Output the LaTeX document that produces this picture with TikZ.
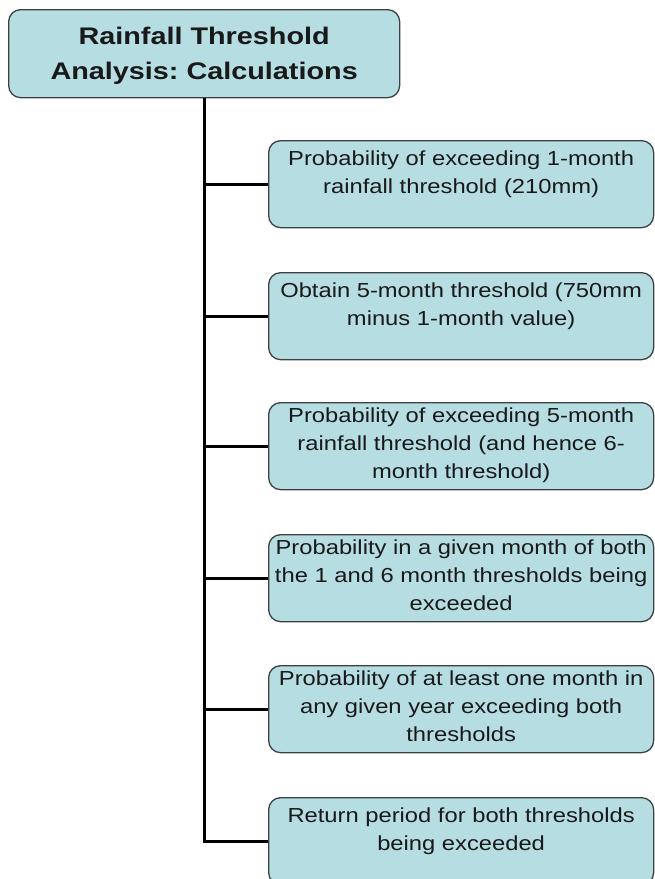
\documentclass[tikz,border=0pt]{standalone}
\usepackage{fontspec}
\newfontfamily\boxfont[FakeStretch=1.17]{Liberation Sans}
\newfontfamily\titlefont[FakeStretch=1.2]{Liberation Sans}
\definecolor{boxfill}{RGB}{181,221,226}
\definecolor{boxline}{RGB}{60,64,66}
\frenchspacing
\tikzset{
  rbox/.style={draw=boxline, line width=1.3pt, fill=boxfill, rounded corners=12pt,
    minimum width=385pt, minimum height=87pt, inner sep=0pt, anchor=north west},
  rtext/.style={anchor=north, inner sep=0pt, align=center,
    font=\boxfont\fontsize{20.3}{28}\selectfont, text=black!90},
  conn/.style={line width=3pt, black}
}
\begin{document}
\begin{tikzpicture}[x=1pt,y=-1pt]
\useasboundingbox (0,0) rectangle (654,879);
% title
\node[draw=boxline, line width=1.3pt, fill=boxfill, rounded corners=12pt,
  minimum width=391pt, minimum height=88pt, anchor=north west, inner sep=0pt] (top) at (8,9) {};
\node[align=center, inner sep=0pt, font=\titlefont\bfseries\fontsize{24}{35}\selectfont, text=black!90]
  (toptext) at ([yshift=-2pt]top.center) {Rainfall Threshold\\Analysis: Calculations};
% child boxes
\node[rbox] (b1) at (268,140) {};
\node[rbox] (b2) at (268,272) {};
\node[rbox] (b3) at (268,402) {};
\node[rbox] (b4) at (268,534) {};
\node[rbox] (b5) at (268,665) {};
\node[rbox] (b6) at (268,797) {};
\node[rtext] (t1) at ([yshift=-11pt]b1.north) {Probability of exceeding 1-month\\rainfall threshold (210mm)};
\node[rtext] (t2) at ([yshift=-11pt]b2.north) {Obtain 5-month threshold (750mm\\minus 1-month value)};
\node[rtext] (t3) at ([yshift=-6pt]b3.north) {Probability of exceeding 5-month\\rainfall threshold (and hence 6-\\month threshold)};
\node[rtext] (t4) at ([yshift=-6pt]b4.north) {Probability in a given month of both\\the 1 and 6 month thresholds being\\exceeded};
\node[rtext] (t5) at ([yshift=-6pt]b5.north) {Probability of at least one month in\\any given year exceeding both\\thresholds};
\node[rtext] (t6) at ([yshift=-11pt]b6.north) {Return period for both thresholds\\being exceeded};
% connectors
\draw[conn] (top.south) -- (top.south |- b6.west);
\foreach \b in {b1,b2,b3,b4,b5,b6}
  \draw[conn] ([xshift=-1.5pt]top.south |- \b.west) -- (\b.west);
\end{tikzpicture}
\end{document}
